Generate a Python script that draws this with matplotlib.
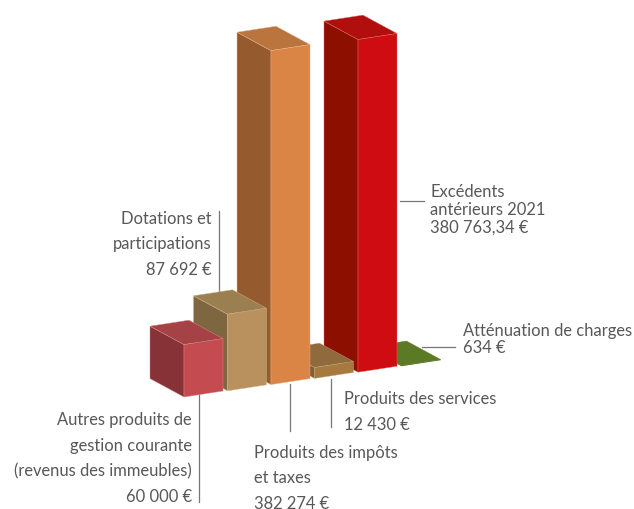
import matplotlib
matplotlib.use('Agg')
import matplotlib.pyplot as plt
from matplotlib.patches import Polygon

plt.rcParams['font.family'] = ['Lato', 'DejaVu Sans']

categories = ['Autres produits', 'Dotations', 'Impôts et taxes', 'Services', 'Excédents', 'Atténuation']
values = [60000, 87692, 382274, 12430, 380763.34, 634]

front_colors = ['#C44C50', '#B8915E', '#DA8445', '#A67A3F', '#CE0C12', '#5C7A26']
side_colors = ['#873236', '#7E6640', '#955B2F', '#7D6035', '#8C0F00', '#4A6420']
top_colors = ['#A54246', '#9B7F50', '#BA743D', '#8F6A3C', '#B00F0E', '#5C7A26']
edge_colors = ['#D98A8C', '#D0B48C', '#EBB48C', '#C4A47A', '#DE6A60', '#5C7A26']

# oblique projection, all in pixels of the picture
base_x, base_y = 184, 398
step_x, step_y = 43.5, -6.2
width_x, width_y = 39, -6
depth_x, depth_y = -34, -18.4
px_per_unit = 334 / 382274

fig = plt.figure(figsize=(6.34, 5.10), dpi=100)
ax = fig.add_axes([0, 0, 1, 1])
ax.set_xlim(0, 634)
ax.set_ylim(510, 0)
ax.axis('off')

# right to left so the nearer bars cover the others
for i in range(len(values) - 1, -1, -1):
    x0 = base_x + i * step_x
    y0 = base_y + i * step_y
    h = values[i] * px_per_unit
    front = [(x0, y0), (x0 + width_x, y0 + width_y), (x0 + width_x, y0 + width_y - h), (x0, y0 - h)]
    side = [(x0, y0), (x0, y0 - h), (x0 + depth_x, y0 - h + depth_y), (x0 + depth_x, y0 + depth_y)]
    top = [(x0, y0 - h), (x0 + width_x, y0 + width_y - h),
           (x0 + width_x + depth_x, y0 + width_y - h + depth_y), (x0 + depth_x, y0 - h + depth_y)]
    ax.add_patch(Polygon(side, fc=side_colors[i], ec=edge_colors[i], lw=0.3, zorder=2))
    ax.add_patch(Polygon(top, fc=top_colors[i], ec=edge_colors[i], lw=0.3, zorder=2))
    ax.add_patch(Polygon(front, fc=front_colors[i], ec=edge_colors[i], lw=0.3, zorder=2))

text_color = '#58585A'
line_color = '#77777A'

# leader lines
ax.plot([199, 199], [393, 503], color=line_color, lw=0.9, zorder=1)
ax.plot([218.5, 218.5], [212, 293], color=line_color, lw=0.9, zorder=1)
ax.plot([289.5, 289.5], [385, 432], color=line_color, lw=0.9, zorder=1)
ax.plot([331, 331], [380, 428], color=line_color, lw=0.9, zorder=1)
ax.plot([400, 424], [202, 202], color=line_color, lw=0.9, zorder=1)
ax.plot([422, 455], [348, 348], color=line_color, lw=0.9, zorder=1)

fs = 11.9
ax.text(212, 244.5, 'Dotations et\nparticipations\n87 692 €', ha='right', va='center', ma='right',
        fontsize=fs, color=text_color, linespacing=1.72)
ax.text(192, 458.5, 'Autres produits de\ngestion courante\n(revenus des immeubles)\n60 000 €', ha='right', va='center',
        ma='right', fontsize=fs, color=text_color, linespacing=1.72)
ax.text(254, 478.5, 'Produits des impôts\net taxes\n382 274 €', ha='left', va='center', ma='left',
        fontsize=fs, color=text_color, linespacing=1.72, clip_on=True)
ax.text(344, 412, 'Produits des services\n12 430 €', ha='left', va='center', ma='left',
        fontsize=fs, color=text_color, linespacing=1.72)
ax.text(430, 210, 'Excédents\nantérieurs 2021\n380 763,34 €', ha='left', va='center', ma='left',
        fontsize=fs, color=text_color, linespacing=1.12)
ax.text(463, 339.5, 'Atténuation de charges\n634 €', ha='left', va='center', ma='left',
        fontsize=fs, color=text_color, linespacing=1.08)

fig.savefig('out.png', dpi=100)
